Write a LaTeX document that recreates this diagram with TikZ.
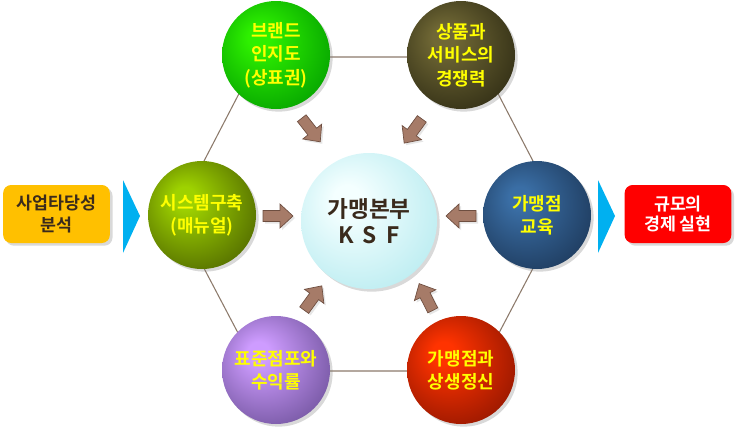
\documentclass[tikz,border=0pt]{standalone}
\usepackage{fontspec}
\setmainfont{Noto Sans CJK KR}[BoldFont={Noto Sans CJK KR Bold}]
\usetikzlibrary{positioning, shadows}
\definecolor{Edge}{HTML}{8C7A6B}
\definecolor{Brownish}{HTML}{A67B68}
\definecolor{BrownDark}{HTML}{6E4E40}
\definecolor{Sky}{HTML}{00B0F0}
\definecolor{Gold}{HTML}{FFC000}
\definecolor{Scarlet}{HTML}{FF0000}
\definecolor{Ink}{HTML}{3A2A1C}
\definecolor{Lemon}{HTML}{FFFF00}
\definecolor{GreenHi}{HTML}{2EF000}
\definecolor{GreenLo}{HTML}{009A00}
\definecolor{OliveHi}{HTML}{706835}
\definecolor{OliveLo}{HTML}{2B2812}
\definecolor{LimeHi}{HTML}{9ED200}
\definecolor{LimeLo}{HTML}{4A6000}
\definecolor{NavyHi}{HTML}{3A6EA5}
\definecolor{NavyLo}{HTML}{1B3555}
\definecolor{PurpleHi}{HTML}{CE9CFF}
\definecolor{PurpleLo}{HTML}{6A4E96}
\definecolor{RedHi}{HTML}{FF3300}
\definecolor{RedLo}{HTML}{8A1400}
\definecolor{CyanHi}{HTML}{F4FFFF}
\definecolor{CyanLo}{HTML}{B4EAEF}
\colorlet{sphhi}{white}
\colorlet{sphlo}{black}
\pgfdeclareradialshading[sphhi,sphlo]{sphere}{\pgfqpoint{-9bp}{9bp}}{color(0bp)=(sphhi); color(5bp)=(sphhi); color(36bp)=(sphlo); color(50bp)=(sphlo)}
\tikzset{
    ballnode/.style 2 args={circle, minimum size=81pt, inner sep=0pt, align=center, text=Lemon,
        font=\bfseries\fontsize{13.5}{17.5}\selectfont,
        /utils/exec={\colorlet{sphhi}{#1}\colorlet{sphlo}{#2}}, shade, shading=sphere,
        drop shadow={opacity=0.3, shadow xshift=2pt, shadow yshift=-2pt}},
    boxnode/.style={rectangle, rounded corners=6pt, minimum width=80pt, minimum height=43.5pt, align=center,
        font=\bfseries\fontsize{13}{16.5}\selectfont, drop shadow={opacity=0.3, shadow xshift=2pt, shadow yshift=-2pt}},
    blockarrow/.pic={
        \draw[fill=Brownish, draw=BrownDark, line width=0.5pt, drop shadow={opacity=0.2, shadow xshift=1.5pt, shadow yshift=-1.5pt}]
            (-15,-5.5) -- (2,-5.5) -- (2,-12) -- (15,0) -- (2,12) -- (2,5.5) -- (-15,5.5) -- cycle;
    },
}
\begin{document}
\begin{tikzpicture}[x=0.75pt, y=-0.75pt]
    \useasboundingbox (0,0) rectangle (740,433);
    % Hexagon behind the circles
    \coordinate (h1) at (258,57);
    \coordinate (h2) at (479,57);
    \coordinate (h3) at (561,215);
    \coordinate (h4) at (479,371);
    \coordinate (h5) at (258,371);
    \coordinate (h6) at (176,215);
    \draw[Edge, line width=0.8pt] (h1) -- (h2) -- (h3) -- (h4) -- (h5) -- (h6) -- cycle;

    % Side boxes and chevrons
    \node[boxnode, fill=Gold, text=Ink] (feas) at (56.5,214) {사업타당성\\분석};
    \fill[Sky] (123,180) -- (140,216) -- (123,253) -- cycle;
    \fill[Sky] (598,180) -- (615,216) -- (598,253) -- cycle;
    \node[boxnode, fill=Scarlet, text=white, font=\bfseries\fontsize{13}{15.5}\selectfont] (scale) at (678,214) {규모의\\경제 실현};

    % Circles
    \node[ballnode={GreenHi}{GreenLo}] (brand) at (276,55) {브랜드\\인지도\\(상표권)};
    \node[ballnode={OliveHi}{OliveLo}] (goods) at (461,55) {상품과\\서비스의\\경쟁력};
    \node[ballnode={LimeHi}{LimeLo}] (sys) at (202,215) {시스템구축\\(매뉴얼)};
    \node[ballnode={NavyHi}{NavyLo}] (edu) at (537,215) {가맹점\\교육};
    \node[ballnode={PurpleHi}{PurpleLo}] (std) at (276,370) {표준점포와\\수익률};
    \node[ballnode={RedHi}{RedLo}] (coop) at (461,370) {가맹점과\\상생정신};
    \node[ballnode={CyanHi}{CyanLo}, minimum size=102pt, text=Ink,
          font=\bfseries\fontsize{17}{19.5}\selectfont] (ksf) at (369,221) {가맹본부\\{\addfontfeature{LetterSpace=40}KSF}};

    % Arrows into the centre
    \pic[rotate=-52] (a1) at (311,130) {blockarrow};
    \pic[rotate=-126] (a2) at (413,131) {blockarrow};
    \pic[rotate=0] (a3) at (278,216) {blockarrow};
    \pic[rotate=180] (a4) at (461,216) {blockarrow};
    \pic[rotate=54] (a5) at (313,298) {blockarrow};
    \pic[rotate=117] (a6) at (426,297) {blockarrow};
\end{tikzpicture}
\end{document}
